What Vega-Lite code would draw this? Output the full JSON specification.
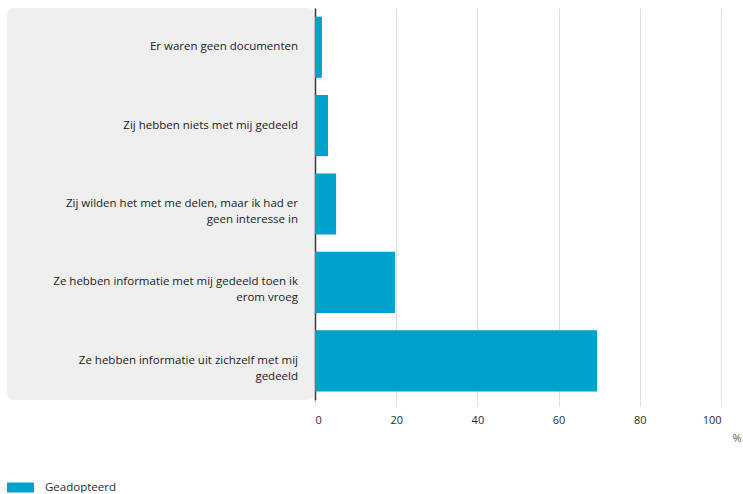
{
  "$schema": "https://vega.github.io/schema/vega-lite/v6.json",
  "padding": {"left": 7, "top": 8, "right": 0, "bottom": 0},
  "background": "#ffffff",
  "config": {
    "font": "Open Sans",
    "view": {"stroke": null}
  },
  "data": {
    "values": [
      {"label": "Er waren geen documenten", "pct": 1.7, "series": "Geadopteerd"},
      {"label": "Zij hebben niets met mij gedeeld", "pct": 3.2, "series": "Geadopteerd"},
      {"label": "Zij wilden het met me delen, maar ik had er\ngeen interesse in", "pct": 5.2, "series": "Geadopteerd"},
      {"label": "Ze hebben informatie met mij gedeeld toen ik\nerom vroeg", "pct": 19.7, "series": "Geadopteerd"},
      {"label": "Ze hebben informatie uit zichzelf met mij\ngedeeld", "pct": 69.5, "series": "Geadopteerd"}
    ]
  },
  "spacing": 0,
  "bounds": "flush",
  "hconcat": [
    {
      "width": 308,
      "height": 392,
      "view": {"fill": "#efefef", "stroke": null, "cornerRadius": 7},
      "mark": {"type": "text", "align": "right", "baseline": "middle", "lineBreak": "\n", "lineHeight": 16, "fontSize": 11.5, "fontWeight": 500, "color": "#222222", "dx": -17},
      "encoding": {
        "y": {"field": "label", "type": "nominal", "sort": null, "axis": null, "scale": {"paddingInner": 0.22, "paddingOuter": 0.11}},
        "x": {"datum": 1, "type": "quantitative", "scale": {"domain": [0, 1]}, "axis": null},
        "text": {"field": "label"}
      }
    },
    {
      "width": 406,
      "height": 392,
      "mark": {"type": "bar"},
      "encoding": {
        "y": {"field": "label", "type": "nominal", "sort": null, "scale": {"paddingInner": 0.22, "paddingOuter": 0.11},
              "axis": {"labels": false, "ticks": false, "title": null, "grid": false, "domain": true, "domainColor": "#3a3a3a", "domainWidth": 1.5}},
        "x": {"field": "pct", "type": "quantitative", "scale": {"domain": [0, 100]},
              "axis": {"values": [0, 20, 40, 60, 80, 100], "grid": true, "gridColor": "#dedede", "domain": false, "ticks": true, "tickColor": "#e2e2e2", "tickSize": 6, "labelPadding": 8, "labelFontSize": 11, "labelFontWeight": 500, "labelColor": "#2b2b2b", "title": "%", "titleFontWeight": "normal", "titleFontSize": 11, "titleColor": "#555555", "titleAnchor": "end", "titleAlign": "right", "titleBaseline": "middle", "titleX": 426, "titleY": 38}},
        "color": {"field": "series", "type": "nominal", "scale": {"range": ["#00a1cd"]},
                  "legend": {"title": null, "orient": "none", "legendX": 0, "legendY": 466, "symbolType": "M-1,-0.37L1,-0.37L1,0.37L-1,0.37Z", "symbolSize": 729, "symbolStrokeWidth": 0, "symbolOpacity": 1, "labelFontSize": 11.5, "labelFontWeight": 500, "labelColor": "#2b2b2b", "labelOffset": 11}}
      }
    }
  ]
}
